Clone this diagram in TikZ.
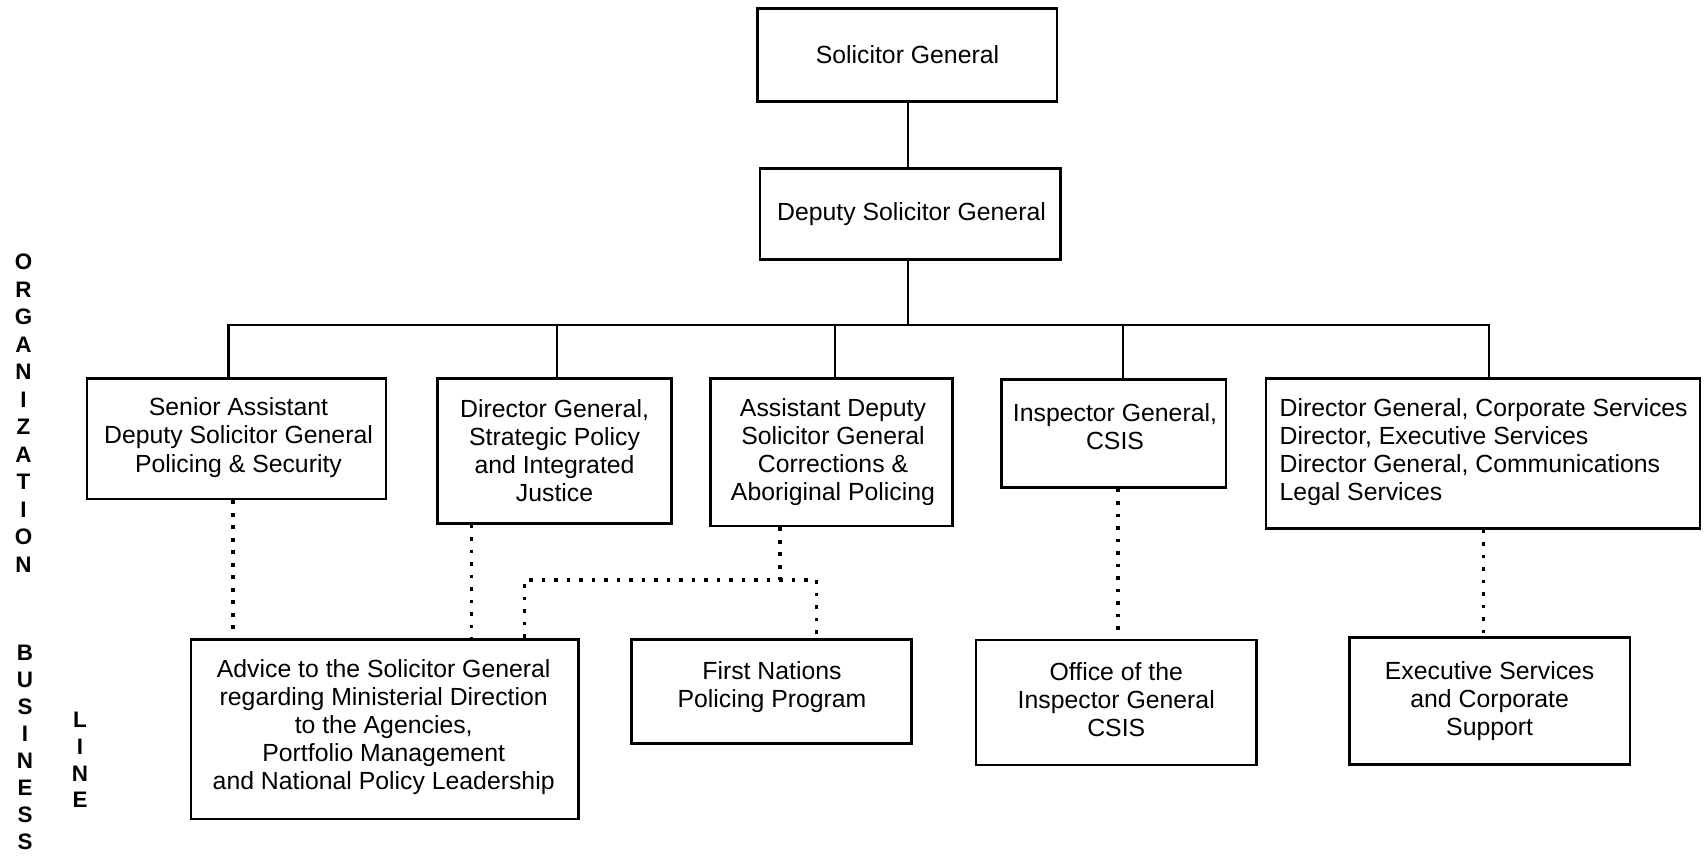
\documentclass[tikz,border=0pt]{standalone}
\usepackage{fontspec}
\setmainfont{Liberation Sans}
\newfontfamily\sidefont{Liberation Sans}[UprightFont=*-Bold]
\begin{document}
\begin{tikzpicture}[x=0.5pt,y=-0.5pt,
  box/.style={draw, line width=1.45pt, rectangle, inner sep=0pt},
  txt/.style={align=center, inner sep=0pt, font=\fontsize{12.4pt}{14.05pt}\selectfont},
  ltxt/.style={align=left, inner sep=0pt, font=\fontsize{12.4pt}{14.05pt}\selectfont},
  conn/.style={line width=1.45pt},
  dotconn/.style={line width=1.6pt, dash pattern=on 1.8pt off 4.45pt},
  side/.style={align=center, inner sep=0pt, font=\sidefont\fontsize{11.2pt}{#1}\selectfont}]
\useasboundingbox (0,0) rectangle (1705,859);

% boxes
\node[box, minimum width=149.75pt, minimum height=46.5pt] (sg) at (907.25,55) {};
\node[box, minimum width=150.25pt, minimum height=45.5pt] (dsg) at (910.25,214) {};
\node[box, minimum width=149.5pt, minimum height=60.35pt] (sr) at (236.5,438.65) {};
\node[box, minimum width=116.75pt, minimum height=72.5pt] (dgs) at (554.55,450.8) {};
\node[box, minimum width=120.95pt, minimum height=73.85pt] (adsg) at (831.55,452.15) {};
\node[box, minimum width=112.25pt, minimum height=54pt] (ig) at (1113.75,433.3) {};
\node[box, minimum width=217pt, minimum height=75pt] (dgc) at (1483,453.3) {};
\node[box, minimum width=193.65pt, minimum height=89.85pt] (adv) at (384.65,729.15) {};
\node[box, minimum width=140pt, minimum height=52pt] (fn) at (771.5,691.3) {};
\node[box, minimum width=140.25pt, minimum height=62.5pt] (off) at (1116.25,702.5) {};
\node[box, minimum width=140.35pt, minimum height=63.5pt] (ex) at (1489.65,700.8) {};

% texts
\node[txt] (sg-t) at (907.5,55) {Solicitor General};
\node[txt] (dsg-t) at (911.5,214) {Deputy Solicitor General};
\node[txt] (sr-t) at (238.5,437.5) {Senior Assistant\\Deputy Solicitor General\\Policing \& Security};
\node[txt] (dgs-t) at (554.55,450.8) {Director General,\\Strategic Policy\\and Integrated\\Justice};
\node[txt] (adsg-t) at (833,452) {Assistant Deputy\\Solicitor General\\Corrections \&\\Aboriginal Policing};
\node[txt] (ig-t) at (1115,427) {Inspector General,\\CSIS};
\node[ltxt, anchor=west] (dgc-t) at (1279.3,452) {Director General, Corporate Services\\Director, Executive Services\\Director General, Communications\\Legal Services};
\node[txt] (adv-t) at (383.7,727) {Advice to the Solicitor General\\regarding Ministerial Direction\\to the Agencies,\\Portfolio Management\\and National Policy Leadership};
\node[txt] (fn-t) at (772,687.5) {First Nations\\Policing Program};
\node[txt] (off-t) at (1116.25,700) {Office of the\\Inspector General\\CSIS};
\node[txt] (ex-t) at (1489.65,701) {Executive Services\\and Corporate\\Support};

% side labels
\node[side=13.75pt] (org) at (23.5,413.3) {O\\R\\G\\A\\N\\I\\Z\\A\\T\\I\\O\\N};
\node[side=13.5pt] (bus) at (25,747.5) {B\\U\\S\\I\\N\\E\\S\\S};
\node[side=13.35pt] (lin) at (80,760) {L\\I\\N\\E};

% solid connectors
\coordinate (bc) at (908,325);
\coordinate (b1) at (228.5,325);
\coordinate (b2) at (557,325);
\coordinate (b3) at (835,325);
\coordinate (b4) at (1123,325);
\coordinate (b5) at (1489,325);
\draw[conn] (bc |- sg.south) -- (bc |- dsg.north);
\draw[conn] (bc |- dsg.south) -- (bc);
\draw[conn] (b1 |- sr.north) -- (b1) -- (b5) -- (b5 |- dgc.north);
\draw[conn] (b2) -- (b2 |- dgs.north);
\draw[conn] (b3) -- (b3 |- adsg.north);
\draw[conn] (b4) -- (b4 |- ig.north);

% dotted connectors
\coordinate (d1) at (233,0);
\coordinate (d2) at (471.5,0);
\coordinate (d3) at (780,580);
\coordinate (d4) at (524.5,580);
\coordinate (d5) at (816.5,580);
\coordinate (d6) at (1118,0);
\coordinate (d7) at (1483.3,0);
\draw[dotconn] (d1 |- sr.south) -- (d1 |- adv.north);
\draw[dotconn] (d2 |- dgs.south) -- (d2 |- adv.north);
\draw[dotconn] (d3 |- adsg.south) -- (d3);
\draw[dotconn] (d4 |- adv.north) -- (d4) -- (d5) -- (d5 |- fn.north);
\draw[dotconn] (d6 |- ig.south) -- (d6 |- off.north);
\draw[dotconn] (d7 |- dgc.south) -- (d7 |- ex.north);
\end{tikzpicture}
\end{document}
